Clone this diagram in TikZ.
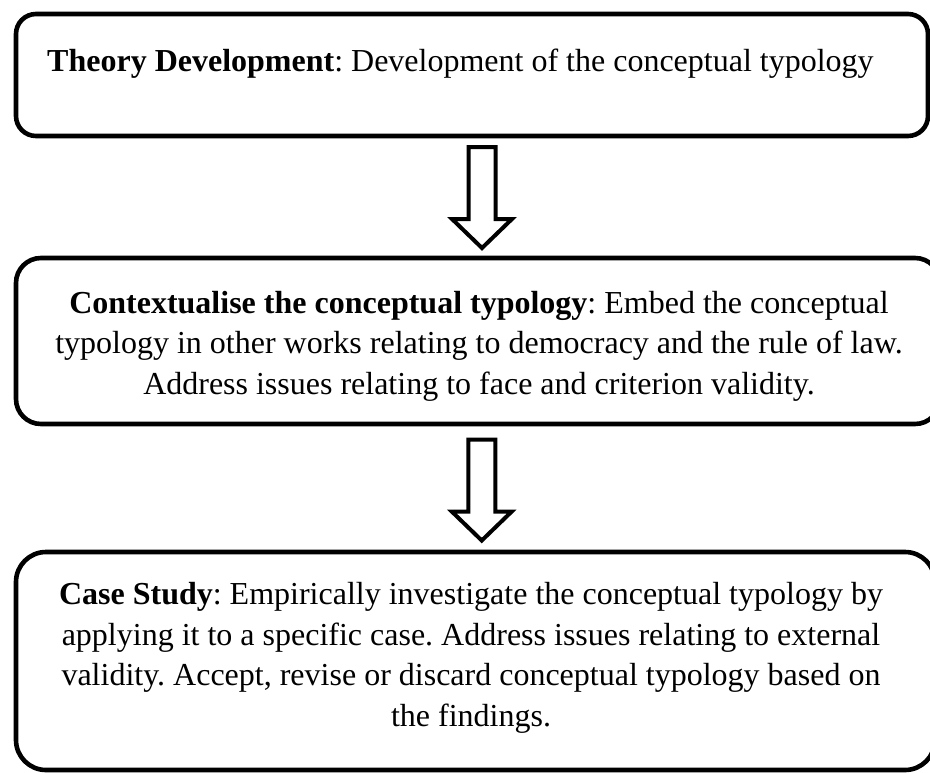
\documentclass[tikz,border=0pt]{standalone}
\usepackage{fontspec}
\setmainfont{Liberation Serif}
\usetikzlibrary{calc}
\frenchspacing

\begin{document}
\begin{tikzpicture}[x = 1pt, y = -1pt, every node/.style={inner sep = 0pt, font = \fontsize{32}{40.5}\selectfont},
  stagebox/.style={draw, line width = 4.6pt, minimum width = #1},
  stagetext/.style={align = center},
  hollowdown/.pic={\draw[line width = 4pt, miter limit = 4] (-13.5, -50.5) -- (13.5, -50.5) -- (13.5, 21.5) -- (30, 21.5) -- (0, 50.5) -- (-30, 21.5) -- (-13.5, 21.5) -- cycle;}]

  \useasboundingbox (0, 0) rectangle (930, 772);

  \node[stagebox = 912pt, minimum height = 122pt, rounded corners = 20pt] (theory) at (472, 75) {};
  \node[stagebox = 924pt, minimum height = 166pt, rounded corners = 25pt] (context) at (478, 341) {};
  \node[stagebox = 919pt, minimum height = 218pt, rounded corners = 30pt] (casestudy) at (475.5, 661) {};

  \node[anchor = base west] (theorytext) at (47, 71) {\textbf{Theory Development}: Development of the conceptual typology};

  \node[stagetext, anchor = base] (contexttext) at (479, 394) {\textbf{Contextualise the conceptual typology}: Embed the conceptual\\ typology in other works relating to democracy and the rule of law.\\ Address issues relating to face and criterion validity.};

  \node[stagetext, anchor = base] (casetext) at (471, 726) {\textbf{Case Study}: Empirically investigate the conceptual typology by\\ applying it to a specific case. Address issues relating to external\\ validity. Accept, revise or discard conceptual typology based on\\ the findings.};

  \coordinate (gapone) at ($(theory.south)!0.5!(context.north) + (7, 0.5)$);
  \coordinate (gaptwo) at ($(context.south)!0.5!(casestudy.north) + (5, 2)$);

  \pic at (gapone) {hollowdown};
  \pic at (gaptwo) {hollowdown};

\end{tikzpicture}
\end{document}
